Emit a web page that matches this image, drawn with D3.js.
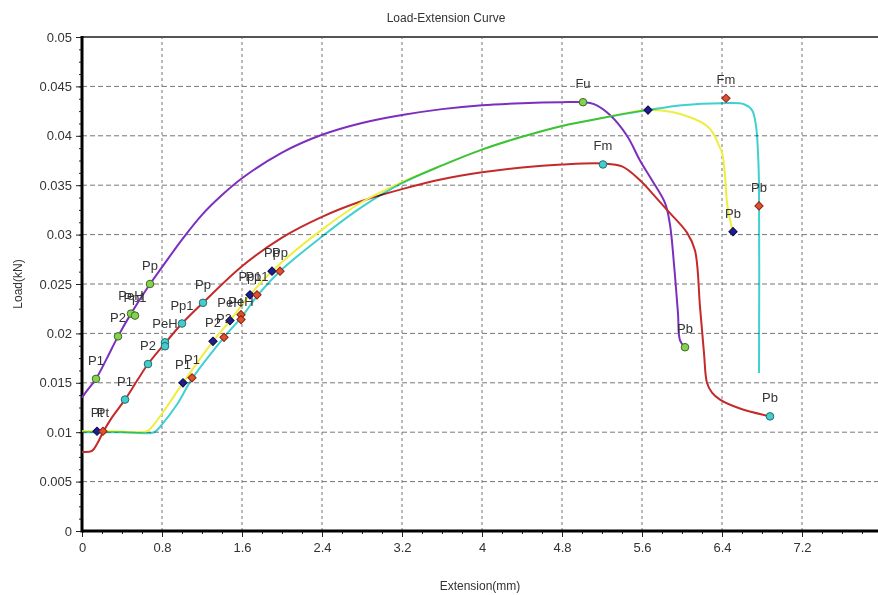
<!DOCTYPE html>
<html>
<head>
<meta charset="utf-8">
<script src="https://cdn.jsdelivr.net/npm/d3@7"></script>
<style>
  body { margin: 0; background: #fff; }
  text { font-family: "Liberation Sans", Arial, sans-serif; fill: #333; }
</style>
</head>
<body>
<div id="chart"></div>
<script>
// DATA
const xTicks = [0, 0.8, 1.6, 2.4, 3.2, 4, 4.8, 5.6, 6.4, 7.2, 8];
const yTicks = [0, 0.005, 0.01, 0.015, 0.02, 0.025, 0.03, 0.035, 0.04, 0.045, 0.05];

// specimen curves (extension mm, load kN)
const purpleX = [0, 0.05, 0.14, 0.25, 0.36, 0.49, 0.68, 0.8, 1.0, 1.2, 1.4, 1.6, 2.0, 2.4, 2.8, 3.2, 3.6, 4.0, 4.4, 4.8, 5.01, 5.12, 5.28, 5.45, 5.58, 5.7, 5.83, 5.88, 5.92, 5.96, 5.98, 6.03];
const purpleY = [0.0135, 0.0142, 0.0154, 0.0175, 0.0197, 0.022, 0.025, 0.0267, 0.0295, 0.032, 0.034, 0.0357, 0.0383, 0.0401, 0.0413, 0.0421, 0.0427, 0.0431, 0.0433, 0.0434, 0.0434, 0.0432, 0.0421, 0.04, 0.0375, 0.0355, 0.0332, 0.031, 0.027, 0.022, 0.0193, 0.0186];

const redX = [0, 0.1, 0.15, 0.21, 0.3, 0.43, 0.55, 0.66, 0.83, 1.0, 1.21, 1.6, 2.0, 2.4, 2.8, 3.2, 3.6, 4.0, 4.4, 4.8, 5.21, 5.4, 5.58, 5.7, 5.85, 6.05, 6.13, 6.18, 6.22, 6.25, 6.3, 6.38, 6.58, 6.88];
const redY = [0.008, 0.0081, 0.0088, 0.01, 0.0115, 0.0133, 0.0152, 0.0169, 0.019, 0.021, 0.0231, 0.0268, 0.0297, 0.0318, 0.0334, 0.0346, 0.0356, 0.0363, 0.0368, 0.0371, 0.0372, 0.0369, 0.0355, 0.0342, 0.0325, 0.0302, 0.0284, 0.0227, 0.018, 0.015, 0.014, 0.0133, 0.0124, 0.0116];

const yellowX = [0, 0.3, 0.65, 0.72, 0.85, 1.01, 1.31, 1.48, 1.68, 1.9, 2.4, 2.8, 3.2, 3.6, 4.0, 4.4, 4.8, 5.2, 5.66, 5.9, 6.1, 6.25, 6.31, 6.37, 6.4, 6.43, 6.45, 6.48, 6.51];
const yellowY = [0.0101, 0.0101, 0.0101, 0.0108, 0.0126, 0.015, 0.0192, 0.0213, 0.0239, 0.0263, 0.0305, 0.0333, 0.0353, 0.037, 0.0386, 0.0399, 0.041, 0.0418, 0.0426, 0.0424, 0.0418, 0.041, 0.0403, 0.039, 0.0383, 0.036, 0.0332, 0.0315, 0.0303];

const cyanX = [0, 0.4, 0.72, 0.8, 0.95, 1.1, 1.42, 1.6, 1.76, 1.98, 2.4, 2.8, 3.2, 3.6, 4.0, 4.4, 4.8, 5.2, 5.66, 6.0, 6.4, 6.62, 6.7, 6.74, 6.76, 6.77, 6.77];
const cyanY = [0.01, 0.01, 0.01, 0.0108, 0.0128, 0.0154, 0.0196, 0.0217, 0.0239, 0.0263, 0.0298, 0.0328, 0.0352, 0.037, 0.0386, 0.0399, 0.041, 0.0418, 0.0426, 0.0431, 0.0433, 0.0432, 0.0426, 0.041, 0.0383, 0.035, 0.016];

// characteristic points
const purpleMarkX = [0.14, 0.36, 0.49, 0.53, 0.68, 5.01, 6.03];
const purpleMarkY = [0.0154, 0.0197, 0.022, 0.0218, 0.025, 0.0434, 0.0186];
const purpleMarkLabel = ["P1", "P2", "PeH", "Pp1", "Pp", "Fu", "Pb"];

const redMarkX = [0.43, 0.66, 0.83, 0.83, 1.0, 1.21, 5.21, 6.88];
const redMarkY = [0.0133, 0.0169, 0.0191, 0.0187, 0.021, 0.0231, 0.0371, 0.0116];
const redMarkLabel = ["P1", "P2", "PeH", "", "Pp1", "Pp", "Fm", "Pb"];

const yellowMarkX = [0.15, 1.01, 1.31, 1.48, 1.68, 1.9, 5.66, 6.51];
const yellowMarkY = [0.0101, 0.015, 0.0192, 0.0213, 0.0239, 0.0263, 0.0426, 0.0303];
const yellowMarkLabel = ["Pt", "P1", "P2", "PeH", "Pp1", "Pp", "", "Pb"];

const cyanMarkX = [0.21, 1.1, 1.42, 1.59, 1.59, 1.75, 1.98, 6.44, 6.77];
const cyanMarkY = [0.0101, 0.0155, 0.0196, 0.0219, 0.0214, 0.0239, 0.0263, 0.0438, 0.0329];
const cyanMarkLabel = ["Pt", "P1", "P2", "", "PeH", "Pp1", "Pp", "Fm", "Pb"];

// SETTINGS
const width = 878, height = 595;
const margin = { left: 82, top: 37 };
const plotW = 800, plotH = 494;

const x = d3.scaleLinear().domain([0, 8]).range([margin.left, margin.left + plotW]);
const y = d3.scaleLinear().domain([0, 0.05]).range([margin.top + plotH, margin.top]);

const svg = d3.select('#chart').append('svg')
    .attr('width', width)
    .attr('height', height);

// grid
svg.append('g').selectAll('line')
    .data(xTicks.slice(1))
    .enter().append('line')
    .attr('x1', d => x(d)).attr('x2', d => x(d))
    .attr('y1', y(0)).attr('y2', y(0.05))
    .attr('stroke', '#777').attr('stroke-dasharray', '3,3');
svg.append('g').selectAll('line')
    .data(yTicks.slice(1, -1))
    .enter().append('line')
    .attr('x1', x(0)).attr('x2', x(8))
    .attr('y1', d => y(d)).attr('y2', d => y(d))
    .attr('stroke', '#777').attr('stroke-dasharray', '5,3');

// axes
const xAxis = svg.append('g')
    .attr('transform', `translate(0, ${y(0)})`)
    .call(d3.axisBottom(x).tickValues(xTicks).tickSize(6).tickPadding(6)
        .tickFormat(d => d3.format('~g')(d)));
const xMinor = svg.append('g')
    .attr('transform', `translate(0, ${y(0)})`)
    .call(d3.axisBottom(x).tickValues(d3.range(0, 8.01, 0.2)).tickSize(3).tickFormat(''));
const yAxis = svg.append('g')
    .attr('transform', `translate(${x(0)}, 0)`)
    .call(d3.axisLeft(y).tickValues(yTicks).tickSize(6).tickPadding(4)
        .tickFormat(d => d3.format('~g')(d)));
const yMinor = svg.append('g')
    .attr('transform', `translate(${x(0)}, 0)`)
    .call(d3.axisLeft(y).tickValues(d3.range(0, 0.0501, 0.00125)).tickSize(3).tickFormat(''));

[xAxis, yAxis, xMinor, yMinor].forEach(g => {
    g.select('.domain').remove();
    g.selectAll('line').attr('stroke', '#222');
    g.selectAll('text').attr('font-size', 13).attr('fill', '#333')
        .attr('font-family', '"Liberation Sans", Arial, sans-serif');
});

// frame
svg.append('line')
    .attr('x1', x(0)).attr('x2', x(8)).attr('y1', y(0.05)).attr('y2', y(0.05))
    .attr('stroke', '#555').attr('stroke-width', 2);
svg.append('line')
    .attr('x1', x(0)).attr('x2', x(8)).attr('y1', y(0)).attr('y2', y(0))
    .attr('stroke', '#000').attr('stroke-width', 3);
svg.append('line')
    .attr('x1', x(0)).attr('x2', x(0)).attr('y1', y(0) + 1.5).attr('y2', y(0.05) - 1)
    .attr('stroke', '#000').attr('stroke-width', 3);

// curves
const line = d3.line()
    .x(d => x(d[0]))
    .y(d => y(d[1]))
    .curve(d3.curveCatmullRom.alpha(0.5));

// cyan is multiplied over yellow so the shared stretch reads green
const curves = [
    { xs: purpleX, ys: purpleY, color: '#7b2fbe' },
    { xs: redX, ys: redY, color: '#c42a2a' },
    { xs: yellowX, ys: yellowY, color: '#eeee40' },
    { xs: cyanX, ys: cyanY, color: '#40d0d0', blend: 'multiply' }
];
curves.forEach(c => {
    svg.append('path')
        .datum(d3.zip(c.xs, c.ys))
        .attr('d', line)
        .attr('fill', 'none')
        .attr('stroke', c.color)
        .attr('stroke-width', 2)
        .style('mix-blend-mode', c.blend || 'normal');
});

// markers
const markerSets = [
    { xs: purpleMarkX, ys: purpleMarkY, labels: purpleMarkLabel, fill: '#86d052', stroke: '#3d6b22', diamond: false },
    { xs: redMarkX, ys: redMarkY, labels: redMarkLabel, fill: '#46cccc', stroke: '#1e6f6f', diamond: false },
    { xs: yellowMarkX, ys: yellowMarkY, labels: yellowMarkLabel, fill: '#1d1d92', stroke: '#0b0b50', diamond: true },
    { xs: cyanMarkX, ys: cyanMarkY, labels: cyanMarkLabel, fill: '#e0502e', stroke: '#8a2412', diamond: true }
];
markerSets.forEach(m => {
    const pts = d3.zip(m.xs, m.ys, m.labels);
    const g = svg.append('g');
    g.selectAll('path')
        .data(pts)
        .enter().append('path')
        .attr('transform', d => `translate(${x(d[0])}, ${y(d[1])})` + (m.diamond ? ' rotate(45)' : ''))
        .attr('d', d3.symbol().type(m.diamond ? d3.symbolSquare : d3.symbolCircle).size(m.diamond ? 34 : 45))
        .attr('fill', m.fill)
        .attr('stroke', m.stroke)
        .attr('stroke-width', 1);
    g.selectAll('text')
        .data(pts.filter(d => d[2]))
        .enter().append('text')
        .attr('x', d => x(d[0]))
        .attr('y', d => y(d[1]) - 14)
        .attr('text-anchor', 'middle')
        .attr('font-size', 13)
        .attr('fill', '#222')
        .text(d => d[2]);
});

// titles
svg.append('text')
    .attr('x', 446).attr('y', 22)
    .attr('text-anchor', 'middle')
    .attr('font-size', 12)
    .text('Load-Extension Curve');
svg.append('text')
    .attr('x', 480).attr('y', 590)
    .attr('text-anchor', 'middle')
    .attr('font-size', 12)
    .text('Extension(mm)');
svg.append('text')
    .attr('transform', `translate(22, ${y(0.025)}) rotate(-90)`)
    .attr('text-anchor', 'middle')
    .attr('font-size', 12)
    .text('Load(kN)');
</script>
</body>
</html>
